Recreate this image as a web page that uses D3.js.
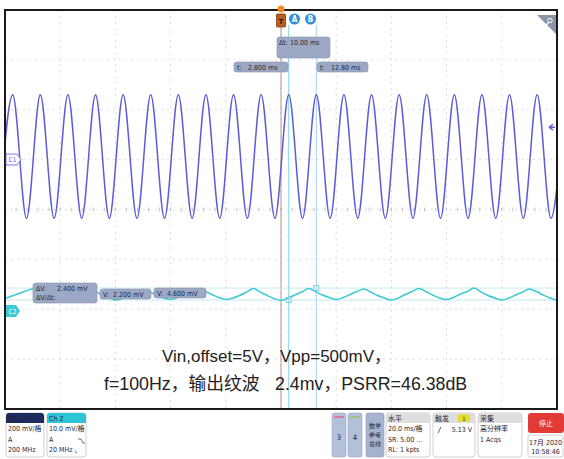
<!DOCTYPE html>
<html>
<head>
<meta charset="utf-8">
<script src="https://cdn.jsdelivr.net/npm/d3@7"></script>
<style>
  body { margin: 0; background: #fff; }
  text { font-family: "Liberation Sans Narrow", "DejaVu Sans Condensed", "Noto Sans CJK SC", sans-serif; }
  .note { font-family: "Liberation Sans", "Noto Sans CJK SC", sans-serif; font-size: 17px; fill: #222; }
  .small { font-size: 7px; fill: #1e2436; }
</style>
</head>
<body>
<div id="scope"></div>
<script>
// Ch1: peaks and troughs of the input sine (ms, V)
const ch1Times = [-102.2, -97.2, -92.2, -87.2, -82.2, -77.2, -72.2, -67.2, -62.2, -57.2, -52.2, -47.2, -42.2, -37.2,
  -32.2, -27.2, -22.2, -17.2, -12.2, -7.2, -2.2, 2.8, 7.8, 12.8, 17.8, 22.8, 27.8, 32.8, 37.8, 42.8, 47.8,
  52.8, 57.8, 62.8, 67.8, 72.8, 77.8, 82.8, 87.8, 92.8, 97.8, 102.8];
const ch1Volts = [4.765, 5.26, 4.765, 5.26, 4.765, 5.26, 4.765, 5.26, 4.765, 5.26, 4.765, 5.26, 4.765, 5.26,
  4.765, 5.26, 4.765, 5.26, 4.765, 5.26, 4.765, 5.26, 4.765, 5.26, 4.765, 5.26, 4.765, 5.26, 4.765, 5.26, 4.765,
  5.26, 4.765, 5.26, 4.765, 5.26, 4.765, 5.26, 4.765, 5.26, 4.765, 5.26];

// Ch2: output ripple (ms, mV)
const ch2Times = [-100, -97.5, -95, -92.5, -90, -87.5, -85, -82.5, -80, -77.5, -75, -72.5, -70, -67.5, -65, -62.5,
  -60, -57.5, -55, -52.5, -50, -47.5, -45, -42.5, -40, -37.5, -35, -32.5, -30, -27.5, -25, -22.5, -20, -17.5,
  -15, -12.5, -10, -7.5, -5, -2.5, 0, 2.5, 5, 7.5, 10, 12.5, 15, 17.5, 20, 22.5, 25, 27.5, 30, 32.5, 35, 37.5,
  40, 42.5, 45, 47.5, 50, 52.5, 55, 57.5, 60, 62.5, 65, 67.5, 70, 72.5, 75, 77.5, 80, 82.5, 85, 87.5, 90, 92.5,
  95, 97.5, 100];
const ch2Values = [2.5, 3.0, 3.5, 4.0, 4.4, 4.0, 3.4, 2.8, 2.3, 2.6, 3.1, 3.8, 4.4, 3.9, 3.3, 2.7,
  2.2, 2.5, 3.2, 3.7, 4.3, 3.8, 3.2, 2.6, 2.3, 2.7, 3.3, 3.9, 4.4, 3.9, 3.3, 2.7, 2.3, 2.6,
  3.1, 3.8, 4.5, 3.8, 3.1, 2.5, 2.1, 2.6, 3.2, 3.8, 4.5, 3.9, 3.2, 2.7, 2.3, 2.7, 3.3, 3.9, 4.4, 3.8, 3.1, 2.6,
  2.2, 2.6, 3.3, 3.9, 4.5, 3.9, 3.2, 2.6, 2.3, 2.7, 3.4, 3.9, 4.6, 3.8, 3.1, 2.6, 2.2, 2.6, 3.2, 3.8, 4.4, 3.9,
  3.2, 2.6, 2.2];

// cursors
const cursorTimes = [2.8, 12.8];
const cursorVolts2 = [2.2, 4.6];
const triggerLevel = 5.13;

const note1 = 'Vin,offset=5V，Vpp=500mV，';
const note2a = 'f=100Hz，输出纹波';
const note2b = '2.4mv，PSRR=46.38dB';

const W = 564, H = 459;
const frame = { left: 5, right: 557, top: 10, bottom: 409 };
const div = (frame.bottom - frame.top) / 8;

const svg = d3.select('#scope').append('svg').attr('width', W).attr('height', H);

const x = d3.scaleLinear().domain([-100, 100]).range([frame.left, frame.right]);
const y1 = d3.scaleLinear().domain([4.0, 5.6]).range([frame.bottom, frame.top]);   // 200 mV/div, offset 5 V
const ch2Zero = 311;
const y2 = d3.scaleLinear().domain([0, 10]).range([ch2Zero, ch2Zero - div]);         // 10 mV/div

svg.append('clipPath').attr('id', 'clip').append('rect')
  .attr('x', frame.left).attr('y', frame.top)
  .attr('width', frame.right - frame.left).attr('height', frame.bottom - frame.top);

// graticule
const grid = svg.append('g').attr('stroke', '#d4d4d4').attr('stroke-width', 0.8).attr('stroke-dasharray', '2,4');
grid.selectAll('.vx').data(d3.range(-80, 100, 20)).enter().append('line')
  .attr('x1', d => x(d)).attr('x2', d => x(d)).attr('y1', frame.top).attr('y2', frame.bottom);
grid.selectAll('.hy').data(d3.range(1, 8)).enter().append('line')
  .attr('x1', frame.left).attr('x2', frame.right)
  .attr('y1', d => frame.top + d * div).attr('y2', d => frame.top + d * div);

// minor ticks on centre line
const ticks = svg.append('g').attr('stroke', '#b8b8b8').attr('stroke-width', 0.8);
ticks.selectAll('.tx').data(d3.range(-96, 100, 4)).enter().append('line')
  .attr('x1', d => x(d)).attr('x2', d => x(d))
  .attr('y1', y1(4.8) - 2).attr('y2', y1(4.8) + 2);

// trigger position line
svg.append('line').attr('x1', x(0)).attr('x2', x(0)).attr('y1', 27).attr('y2', frame.bottom)
  .attr('stroke', '#b9948a').attr('stroke-width', 1);

// ch2 horizontal cursors
svg.selectAll('.hc').data(cursorVolts2).enter().append('line')
  .attr('x1', frame.left).attr('x2', frame.right)
  .attr('y1', d => y2(d)).attr('y2', d => y2(d))
  .attr('stroke', '#c4eaf0').attr('stroke-width', 1);

// vertical cursors
svg.selectAll('.vc').data(cursorTimes).enter().append('line')
  .attr('x1', d => x(d)).attr('x2', d => x(d)).attr('y1', 25).attr('y2', frame.bottom)
  .attr('stroke', (d, i) => i === 0 ? '#86d3e2' : '#a9d2ea').attr('stroke-width', 1);

// waveforms
const ch1 = ch1Times.map((t, i) => ({ t, v: ch1Volts[i] }));
const ch2 = ch2Times.map((t, i) => ({ t, v: ch2Values[i] }));

svg.append('path').datum(ch1).attr('clip-path', 'url(#clip)')
  .attr('fill', 'none').attr('stroke', '#5c5cda').attr('stroke-width', 1.5)
  .attr('d', d3.line().x(d => x(d.t)).y(d => y1(d.v)).curve(d3.curveMonotoneX));

svg.append('path').datum(ch2).attr('clip-path', 'url(#clip)')
  .attr('fill', 'none').attr('stroke', '#3cc9d3').attr('stroke-width', 1.5)
  .attr('d', d3.line().x(d => x(d.t)).y(d => y2(d.v)).curve(d3.curveCatmullRom));

// cursor crossing markers
svg.selectAll('.cm').data(cursorTimes).enter().append('rect')
  .attr('x', d => x(d) - 2.5).attr('y', (d, i) => y2(cursorVolts2[i]) - 2.5)
  .attr('width', 5).attr('height', 5).attr('fill', 'none')
  .attr('stroke', '#7fd0dc').attr('stroke-width', 1);

// frame
svg.append('rect').attr('x', frame.left).attr('y', frame.top)
  .attr('width', frame.right - frame.left).attr('height', frame.bottom - frame.top)
  .attr('fill', 'none').attr('stroke', '#1a1a1a').attr('stroke-width', 2);

// trigger marker
svg.append('circle').attr('cx', x(0)).attr('cy', 9).attr('r', 3.5).attr('fill', '#f08a24');
svg.append('rect').attr('x', x(0) - 4.5).attr('y', 14).attr('width', 9).attr('height', 13).attr('rx', 1)
  .attr('fill', '#b8601e').attr('stroke', '#7a3c10').attr('stroke-width', 0.8);
svg.append('text').attr('x', x(0)).attr('y', 23.5).attr('text-anchor', 'middle')
  .style('font-size', '7px').style('font-weight', 'bold').attr('fill', '#2a1608').text('T');

// cursor bubbles
['A', 'B'].forEach((lbl, i) => {
  const cx = i === 0 ? 294.5 : 310.5;
  svg.append('circle').attr('cx', cx).attr('cy', 19).attr('r', 5.5).attr('fill', '#2f8fe0');
  svg.append('text').attr('x', cx).attr('y', 22).attr('text-anchor', 'middle')
    .style('font-size', '8px').style('font-weight', 'bold').attr('fill', '#fff').text(lbl);
});

// readout boxes
function box(bx, by, bw, bh) {
  svg.append('rect').attr('x', bx).attr('y', by).attr('width', bw).attr('height', bh).attr('rx', 2.5)
    .attr('fill', '#9da9c4').attr('stroke', '#8390b0').attr('stroke-width', 0.6);
}
function label(tx, ty, s, cls) {
  return svg.append('text').attr('x', tx).attr('y', ty).attr('class', cls || 'small').text(s);
}
box(277, 37, 53, 21);
label(279, 45, 'Δt:  10.00 ms');
box(234, 62, 54, 10);
label(237, 70, 't:'); label(248, 70, '2.800 ms');
box(317, 62, 51, 10);
label(320, 70, 't:'); label(331, 70, '12.80 ms');

box(33, 283, 64, 20);
label(36, 291, 'ΔV:'); label(57, 291, '2.400 mV');
label(36, 300, 'ΔV/Δt:');
box(100, 289, 51, 10);
label(103, 297, 'V:'); label(113, 297, '2.200 mV');
box(154, 288, 52, 10);
label(157, 296, 'V:'); label(167, 296, '4.600 mV');

// channel markers
svg.append('path').attr('d', 'M6,154 H17 L21,159.6 L17,165 H6 Z')
  .attr('fill', '#fff').attr('stroke', '#5c5cda').attr('stroke-width', 0.8);
svg.append('text').attr('x', 12.5).attr('y', 162).attr('text-anchor', 'middle')
  .style('font-size', '6.5px').attr('fill', '#5c5cda').text('C1');
svg.append('path').attr('d', `M6,${ch2Zero - 6} H16 L20,${ch2Zero} L16,${ch2Zero + 6} H6 Z`).attr('fill', '#3cc9d3');
svg.append('text').attr('x', 12.5).attr('y', ch2Zero + 2.5).attr('text-anchor', 'middle')
  .style('font-size', '6.5px').attr('fill', '#fff').text('C2');

// trigger level arrow
const ty = y1(triggerLevel);
svg.append('path').attr('d', `M549,${ty} L553,${ty - 3} M549,${ty} L553,${ty + 3} M549,${ty} H555`)
  .attr('stroke', '#5c5cda').attr('stroke-width', 1.4).attr('fill', 'none');

// zoom corner
svg.append('path').attr('d', 'M537,15 H556 V34 Z').attr('fill', '#8a93a8');
svg.append('circle').attr('cx', 550).attr('cy', 20.5).attr('r', 2.2).attr('fill', 'none').attr('stroke', '#fff').attr('stroke-width', 1);
svg.append('line').attr('x1', 548.5).attr('y1', 22.5).attr('x2', 545.5).attr('y2', 26).attr('stroke', '#fff').attr('stroke-width', 1.2);

// annotation text
svg.append('text').attr('class', 'note').attr('x', 162).attr('y', 362).text(note1);
const line2 = svg.append('text').attr('class', 'note').attr('y', 390).style('font-size', '17.8px');
line2.append('tspan').attr('x', 104).text(note2a);
line2.append('tspan').attr('x', 275).text(note2b);

// bottom status bar
function panel(px, pw, head, headFill, lines, headColor) {
  svg.append('rect').attr('x', px).attr('y', 413).attr('width', pw).attr('height', 44).attr('rx', 3)
    .attr('fill', '#fff').attr('stroke', '#c4c4c4').attr('stroke-width', 0.8);
  svg.append('path').attr('d', `M${px + 3},413 H${px + pw - 3} Q${px + pw},413 ${px + pw},416 V423 H${px} V416 Q${px},413 ${px + 3},413 Z`)
    .attr('fill', headFill);
  label(px + 2, 421, head).style('font-size', '7px').attr('fill', headColor || '#222');
  lines.forEach((s, i) => label(px + 2, 431 + i * 10.5, s));
}
panel(6, 38, 'Ch 1', '#1f2a5c', ['200 mV/格', 'A', '200 MHz'], '#2a3872');
panel(47, 39, 'Ch 2', '#2ec5d6', ['10.0 mV/格', 'A', '20 MHz ⌞'], '#1a2a40');
svg.append('path').attr('d', 'M78,439 H81 L83,443 H85').attr('stroke', '#333').attr('stroke-width', 0.7).attr('fill', 'none');

[{ px: 332, c: '#e8507a', s: '3' }, { px: 348, c: '#8cc83c', s: '4' }].forEach(b => {
  svg.append('rect').attr('x', b.px).attr('y', 413).attr('width', 14).attr('height', 44).attr('rx', 2)
    .attr('fill', '#b4c0d9').attr('stroke', '#9ba7c2').attr('stroke-width', 0.6);
  svg.append('line').attr('x1', b.px + 2).attr('x2', b.px + 12).attr('y1', 417).attr('y2', 417)
    .attr('stroke', b.c).attr('stroke-width', 1.2);
  svg.append('text').attr('x', b.px + 7).attr('y', 440).attr('text-anchor', 'middle')
    .style('font-size', '7.5px').attr('fill', '#1e2436').text(b.s);
});
svg.append('rect').attr('x', 366).attr('y', 413).attr('width', 18).attr('height', 44).attr('rx', 2)
  .attr('fill', '#a7b3cd').attr('stroke', '#94a0bc').attr('stroke-width', 0.6);
['数学', '参考', '总线'].forEach((s, i) => svg.append('text').attr('x', 375).attr('y', 428 + i * 9)
  .attr('text-anchor', 'middle').style('font-size', '6px').attr('fill', '#1e2436').text(s));

panel(386, 44, '水平', '#dedede', ['20.0 ms/格', 'SR: 5.00 ...', 'RL: 1 kpts']);
panel(433, 42, '触发', '#dedede', []);
svg.append('rect').attr('x', 458).attr('y', 414.5).attr('width', 12).attr('height', 7).attr('fill', '#e6dc2a');
svg.append('text').attr('x', 464).attr('y', 420.5).attr('text-anchor', 'middle').style('font-size', '6px').attr('fill', '#333').text('1');
svg.append('line').attr('x1', 438).attr('y1', 433).attr('x2', 441).attr('y2', 427).attr('stroke', '#333').attr('stroke-width', 0.8);
svg.append('text').attr('x', 472).attr('y', 432).attr('text-anchor', 'end').attr('class', 'small').text('5.13 V');
panel(478, 44, '采集', '#dedede', ['高分辨率', '1 Acqs']);

svg.append('rect').attr('x', 528).attr('y', 413).attr('width', 36).attr('height', 20).attr('rx', 3).attr('fill', '#e23a36');
svg.append('text').attr('x', 546).attr('y', 426).attr('text-anchor', 'middle').style('font-size', '7px').attr('fill', '#fff').text('停止');
svg.append('rect').attr('x', 528).attr('y', 435).attr('width', 35).attr('height', 22).attr('rx', 2)
  .attr('fill', '#fff').attr('stroke', '#c4c4c4').attr('stroke-width', 0.8);
svg.append('text').attr('x', 545.5).attr('y', 444.5).attr('text-anchor', 'middle').attr('class', 'small').text('17月 2020');
svg.append('text').attr('x', 545.5).attr('y', 454).attr('text-anchor', 'middle').attr('class', 'small').text('10:58:46');
</script>
</body>
</html>
